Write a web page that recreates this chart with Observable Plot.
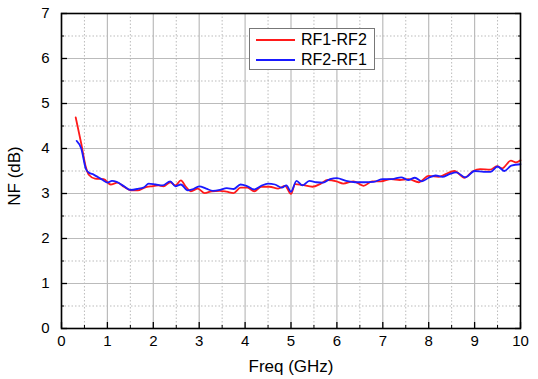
<!DOCTYPE html>
<html>
<head>
<meta charset="utf-8">
<script src="https://cdn.jsdelivr.net/npm/d3@7"></script>
<script src="https://cdn.jsdelivr.net/npm/@observablehq/plot@0.6"></script>
<style>
  body { margin: 0; background: #fff; }
  #wrap { position: relative; width: 538px; height: 379px; font-family: "Liberation Sans", Arial, sans-serif; }
  #legend { position: absolute; left: 249px; top: 28px; width: 126px; height: 42px; border: 1px solid #777; background: #fff; box-sizing: border-box; }
  .item { position: absolute; left: 0; height: 20px; display: flex; align-items: center; font-size: 16px; color: #000; }
  .swatch { width: 39px; height: 0; border-top: 2px solid; margin-left: 6px; margin-right: 6px; }
</style>
</head>
<body>
<div id="wrap"></div>
<script>
const seriesNames = ["RF1-RF2", "RF2-RF1"];
const seriesColors = ["#ff1a1a", "#1a1aff"];

const freqRF1RF2 = [0.31,0.43,0.53,0.60,0.73,0.92,1.07,1.22,1.36,1.51,1.66,1.81,1.96,2.11,2.22,2.37,2.48,2.60,2.71,2.82,2.97,3.12,3.27,3.45,3.60,3.75,3.90,4.05,4.20,4.35,4.53,4.72,4.87,5.00,5.09,5.24,5.47,5.65,5.80,5.99,6.14,6.36,6.58,6.77,6.96,7.18,7.37,7.56,7.78,8.00,8.22,8.37,8.56,8.78,8.97,9.12,9.34,9.49,9.60,9.79,9.90,10.0];
const nfRF1RF2 = [4.69,4.11,3.59,3.41,3.33,3.32,3.20,3.24,3.15,3.07,3.07,3.13,3.16,3.18,3.16,3.25,3.18,3.29,3.15,3.05,3.11,3.01,3.05,3.06,3.04,3.01,3.13,3.13,3.05,3.15,3.15,3.11,3.17,2.99,3.21,3.19,3.15,3.22,3.30,3.27,3.22,3.27,3.17,3.27,3.27,3.32,3.30,3.32,3.25,3.39,3.37,3.43,3.50,3.35,3.50,3.54,3.53,3.61,3.56,3.73,3.69,3.74];

const freqRF2RF1 = [0.33,0.43,0.53,0.60,0.70,0.80,0.90,1.00,1.10,1.20,1.35,1.50,1.65,1.80,1.90,2.05,2.20,2.37,2.48,2.60,2.75,2.85,3.00,3.15,3.30,3.45,3.60,3.75,3.90,4.05,4.20,4.35,4.50,4.65,4.80,4.90,5.00,5.12,5.25,5.40,5.55,5.70,5.85,6.00,6.20,6.40,6.60,6.80,7.00,7.20,7.40,7.55,7.70,7.85,8.00,8.15,8.30,8.45,8.60,8.80,9.00,9.20,9.35,9.50,9.65,9.80,10.0];
const nfRF2RF1 = [4.17,4.00,3.55,3.46,3.42,3.36,3.30,3.24,3.28,3.26,3.17,3.08,3.10,3.14,3.22,3.20,3.18,3.27,3.16,3.20,3.07,3.09,3.16,3.11,3.06,3.08,3.12,3.10,3.20,3.16,3.09,3.17,3.22,3.20,3.13,3.18,3.04,3.28,3.18,3.28,3.25,3.24,3.32,3.34,3.28,3.25,3.25,3.26,3.32,3.32,3.36,3.30,3.35,3.27,3.35,3.40,3.37,3.43,3.47,3.36,3.50,3.48,3.48,3.60,3.50,3.62,3.65];

const xMajor = d3.range(0, 11, 1);
const xMinor = d3.range(0.5, 10, 1);
const yMajor = d3.range(0, 8, 1);
const yMinor = d3.range(0.5, 7, 1);

const data = [
  ...freqRF1RF2.map((f, i) => ({freq: f, nf: nfRF1RF2[i], series: seriesNames[0]})),
  ...freqRF2RF1.map((f, i) => ({freq: f, nf: nfRF2RF1[i], series: seriesNames[1]}))
];

const chart = Plot.plot({
  width: 538,
  height: 379,
  marginLeft: 61,
  marginRight: 18,
  marginTop: 13,
  marginBottom: 51,
  style: {fontFamily: "'Liberation Sans', Arial, sans-serif", fontSize: "15px", color: "#000", background: "#fff"},
  x: {domain: [0, 10], label: null},
  y: {domain: [0, 7], label: null},
  color: {domain: seriesNames, range: seriesColors},
  marks: [
    Plot.gridX(xMajor, {stroke: "#bbb", strokeOpacity: 1, strokeWidth: 1.2}),
    Plot.gridX(xMinor, {stroke: "#bbb", strokeOpacity: 1, strokeDasharray: "1.5,2"}),
    Plot.gridY(yMajor, {stroke: "#bbb", strokeOpacity: 1, strokeWidth: 1.2}),
    Plot.gridY(yMinor, {stroke: "#bbb", strokeOpacity: 1, strokeDasharray: "1.5,2"}),
    Plot.lineY(data, {x: "freq", y: "nf", stroke: "series", strokeWidth: 1.8, curve: "monotone-x"}),
    Plot.axisX(xMajor, {anchor: "bottom", tickSize: -6, tickPadding: 13, stroke: "#000", strokeWidth: 1.3, fontSize: 15}),
    Plot.axisX(xMinor, {anchor: "bottom", tickSize: -3, tickFormat: () => "", stroke: "#000"}),
    Plot.axisY(yMajor, {anchor: "left", tickSize: -6, tickPadding: 18, stroke: "#000", strokeWidth: 1.3, fontSize: 15}),
    Plot.axisY(yMinor, {anchor: "left", tickSize: -3, tickFormat: () => "", stroke: "#000"}),
    Plot.axisY(yMajor, {anchor: "right", tickSize: -6, tickFormat: () => "", stroke: "#000", strokeWidth: 1.3}),
    Plot.axisY(yMinor, {anchor: "right", tickSize: -3, tickFormat: () => "", stroke: "#000"}),
    Plot.frame({stroke: "#000", strokeWidth: 1.6})
  ]
});

const wrap = document.getElementById("wrap");
wrap.appendChild(chart);

// Axis titles
const xt = document.createElement("div");
xt.textContent = "Freq (GHz)";
Object.assign(xt.style, {position: "absolute", left: "61px", width: "460px", top: "357px", textAlign: "center", fontSize: "17px"});
wrap.appendChild(xt);

const yt = document.createElement("div");
yt.textContent = "NF (dB)";
Object.assign(yt.style, {position: "absolute", left: "-35px", top: "166px", width: "100px", textAlign: "center", fontSize: "17px", transform: "rotate(-90deg)"});
wrap.appendChild(yt);

// Legend
const lg = document.createElement("div");
lg.id = "legend";
seriesNames.forEach((name, i) => {
  const it = document.createElement("div");
  it.className = "item";
  it.style.top = (1 + i * 20) + "px";
  const sw = document.createElement("span");
  sw.className = "swatch";
  sw.style.borderTopColor = seriesColors[i];
  const tx = document.createElement("span");
  tx.textContent = name;
  it.appendChild(sw);
  it.appendChild(tx);
  lg.appendChild(it);
});
wrap.appendChild(lg);
</script>
</body>
</html>
